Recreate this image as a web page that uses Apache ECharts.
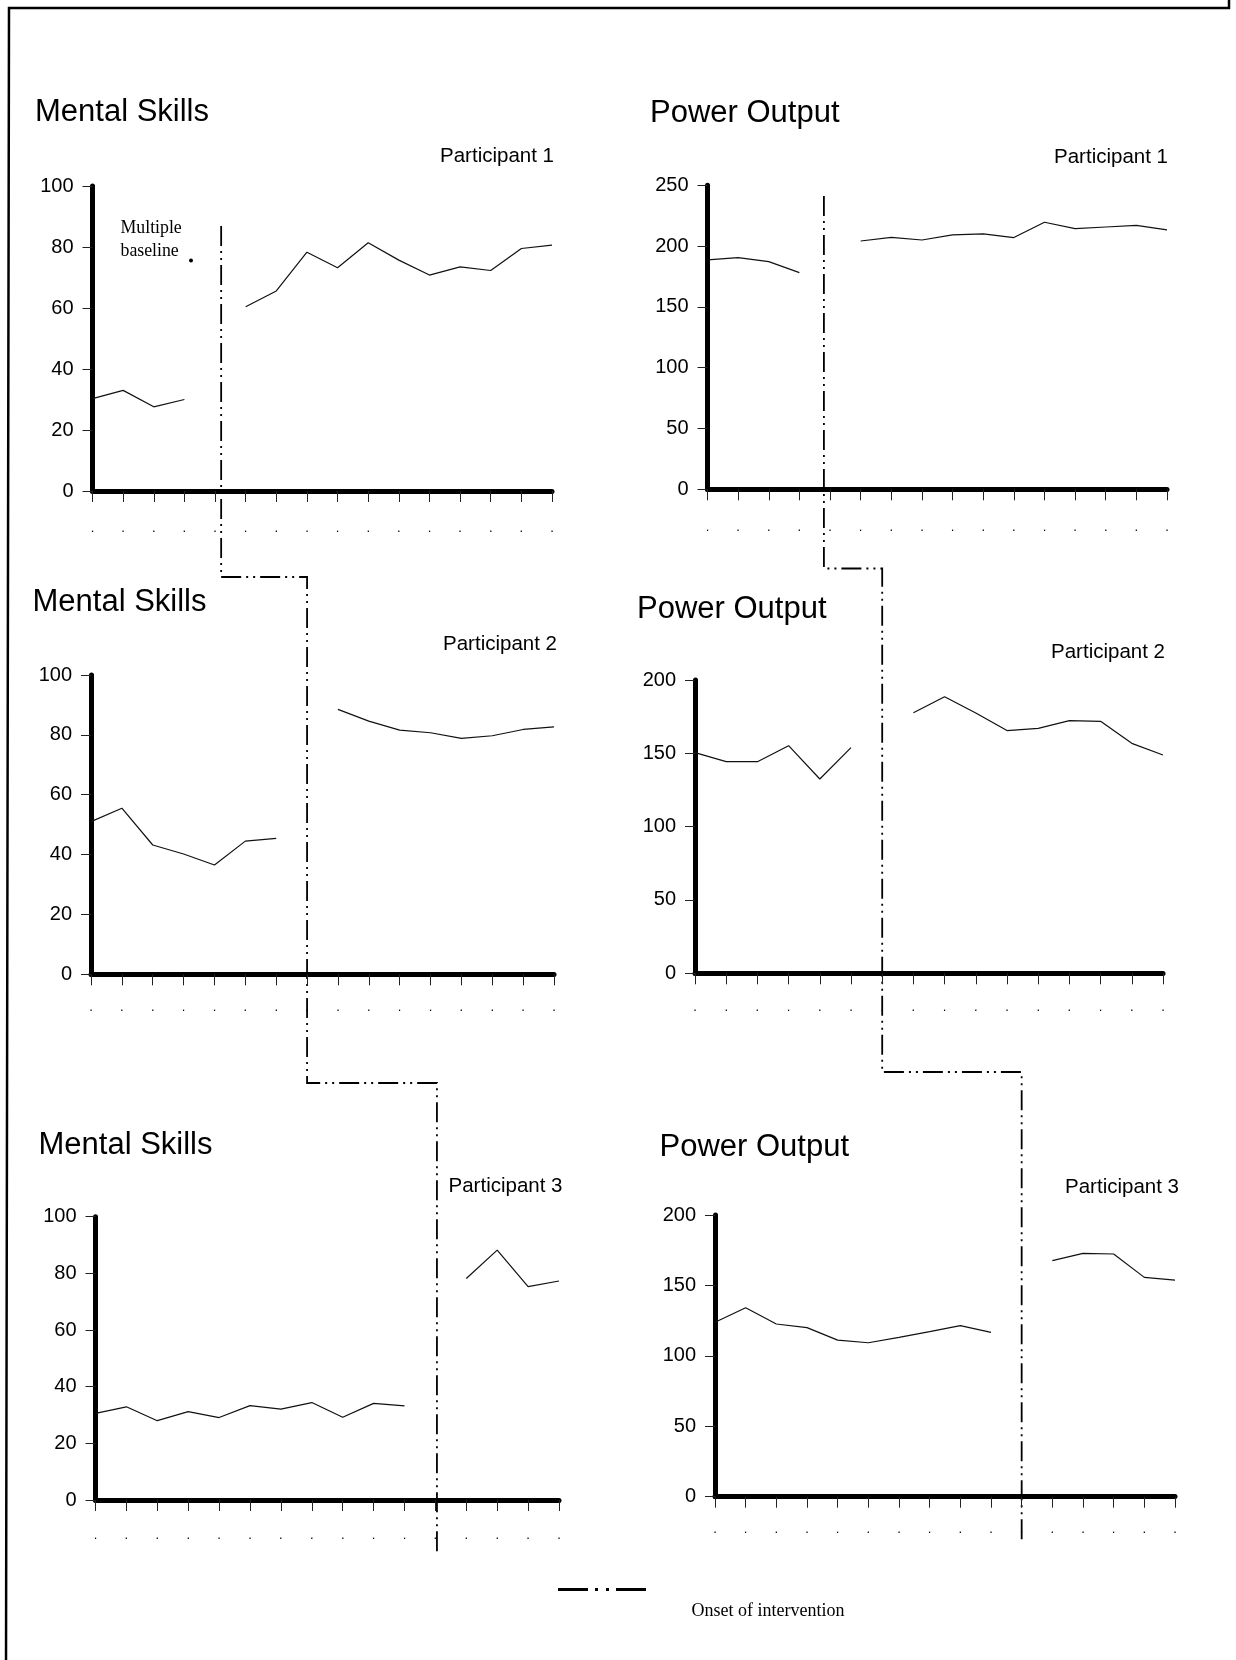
<!DOCTYPE html>
<html><head><meta charset="utf-8">
<script src="https://cdn.jsdelivr.net/npm/echarts@6/dist/echarts.min.js"></script>
<style>html,body{margin:0;padding:0;background:#fff}#c{width:1236px;height:1660px}</style>
</head><body><div id="c"></div>
<script>
// ---- data ----
const sessions = ['1','2','3','4','5','6','7','8','9','10','11','12','13','14','15','16'];
const mentalP1 = [30.3, 33, 27.6, 30, null, 60.4, 65.6, 78.3, 73.2, 81.4, 75.7, 70.8, 73.5, 72.3, 79.5, 80.6];
const mentalP2 = [51, 55.5, 43.2, 40.2, 36.5, 44.5, 45.4, null, 88.5, 84.6, 81.6, 80.7, 78.8, 79.7, 81.8, 82.7];
const mentalP3 = [30.6, 32.9, 28, 31.2, 29.1, 33.3, 32.1, 34.4, 29.2, 34.1, 33.2, null, 78.2, 88.2, 75.3, 77.3];
const powerP1 = [188.6, 190.5, 187.2, 178.2, null, 204.2, 207.2, 205, 209.2, 210, 207, 219.6, 214.4, 215.7, 217.1, 213.3];
const powerP2 = [150.5, 144.3, 144.3, 155.2, 132.5, 153.9, null, 177.7, 188.6, 177.5, 165.5, 167, 172.3, 171.8, 156.8, 148.9];
const powerP3 = [123.8, 134.2, 122.6, 120, 111.2, 109.3, 113.1, 117.2, 121.4, 116.7, null, 167.6, 172.8, 172.3, 155.7, 153.8];
const mentalAxis = {min: 0, max: 100, interval: 20};
const powerAxisP1 = {min: 0, max: 250, interval: 50};
const powerAxis = {min: 0, max: 200, interval: 50};
// intervention onset positions (session index) per participant
const onsetMental = [4.2, 7, 11.05];
const onsetPower = [3.8, 6, 10];
const titles = ['Mental Skills', 'Power Output'];
const participants = ['Participant 1', 'Participant 2', 'Participant 3'];

// ---- layout ----
const panels = [
  {data: mentalP1, axis: mentalAxis, left: 92.5, top: 186, right: 552, bottom: 491, dot: 41},
  {data: powerP1, axis: powerAxisP1, left: 707.5, top: 185.3, right: 1167, bottom: 489.3, dot: 42},
  {data: mentalP2, axis: mentalAxis, left: 91, top: 675, right: 554, bottom: 974.3, dot: 37},
  {data: powerP2, axis: powerAxis, left: 695, top: 680, right: 1163, bottom: 973.3, dot: 38},
  {data: mentalP3, axis: mentalAxis, left: 95.5, top: 1216.7, right: 559, bottom: 1500, dot: 39},
  {data: powerP3, axis: powerAxis, left: 715, top: 1215, right: 1175, bottom: 1496.7, dot: 37}
];
const FONT = "'Liberation Sans', Arial, sans-serif";
const SERIF = "'Liberation Serif', 'Times New Roman', serif";

const chart = echarts.init(document.getElementById('c'), null, {renderer: 'canvas'});
const option = {
  backgroundColor: '#fff',
  animation: false,
  grid: panels.map(p => ({left: p.left, top: p.top, width: p.right - p.left, height: p.bottom - p.top, containLabel: false})),
  xAxis: panels.map((p, i) => ({
    type: 'category', gridIndex: i, data: sessions, boundaryGap: false,
    axisLine: {show: true, onZero: false, lineStyle: {color: '#000', width: 5}},
    axisTick: {show: true, length: 11, interval: 0, lineStyle: {color: '#222', width: 1}},
    axisLabel: {show: true, interval: 0, formatter: () => '.', fontSize: 13, fontFamily: FONT, color: '#000', margin: p.dot - 10.5},
    splitLine: {show: false}
  })),
  yAxis: panels.map((p, i) => ({
    type: 'value', gridIndex: i, min: p.axis.min, max: p.axis.max, interval: p.axis.interval,
    axisLine: {show: true, lineStyle: {color: '#000', width: 5}},
    axisTick: {show: true, length: 10, lineStyle: {color: '#222', width: 1}},
    axisLabel: {show: true, fontSize: 20, fontFamily: FONT, color: '#000', margin: 19},
    splitLine: {show: false}
  })),
  series: panels.map((p, i) => ({
    type: 'line', xAxisIndex: i, yAxisIndex: i, data: p.data, connectNulls: false,
    showSymbol: false, symbol: 'none', lineStyle: {color: '#111', width: 1.2}, silent: true
  }))
};
chart.setOption(option);

function onsetX(gridIdx, pos) {
  const a = Math.floor(pos), b = Math.ceil(pos);
  const xa = chart.convertToPixel({xAxisIndex: gridIdx}, a);
  const xb = chart.convertToPixel({xAxisIndex: gridIdx}, b);
  return xa + (xb - xa) * (pos - a);
}
const xm = onsetMental.map((v, k) => onsetX(k * 2, v));
const xp = onsetPower.map((v, k) => onsetX(k * 2 + 1, v));
const dashStyle = {stroke: '#000', lineWidth: 1.8, lineDash: [20, 5, 2, 5, 2, 5], fill: null};

function txt(text, x, y, size, family, align) {
  return {type: 'text', silent: true, style: {text: text, x: x, y: y, fontSize: size, fontFamily: family, fill: '#000', align: align || 'left', verticalAlign: 'middle'}};
}

const graphics = [
  // frame
  {type: 'polyline', silent: true, shape: {points: [[6, 1660], [9, 8], [1229, 8], [1229, 0]]}, style: {stroke: '#000', lineWidth: 2.5, fill: null}},
  // titles
  txt(titles[0], 35, 112, 31, FONT), txt(titles[1], 650, 113, 31, FONT),
  txt(titles[0], 32.5, 602, 31, FONT), txt(titles[1], 637, 609, 31, FONT),
  txt(titles[0], 38.5, 1145, 31, FONT), txt(titles[1], 659.5, 1147, 31, FONT),
  // participant labels
  txt(participants[0], 554, 156, 20.5, FONT, 'right'), txt(participants[0], 1168, 157.5, 20.5, FONT, 'right'),
  txt(participants[1], 557, 644, 20.5, FONT, 'right'), txt(participants[1], 1165, 652.5, 20.5, FONT, 'right'),
  txt(participants[2], 562.5, 1186, 20.5, FONT, 'right'), txt(participants[2], 1179, 1187.5, 20.5, FONT, 'right'),
  // multiple baseline note
  txt('Multiple', 120.5, 228, 17.8, SERIF), txt('baseline', 120.5, 251, 17.8, SERIF),
  {type: 'circle', silent: true, shape: {cx: 191, cy: 260.5, r: 2}, style: {fill: '#000'}},
  // intervention lines
  {type: 'polyline', silent: true, shape: {points: [[xm[0], 226], [xm[0], 577], [xm[1], 577], [xm[1], 1083], [xm[2], 1083], [xm[2], 1553]]}, style: dashStyle},
  {type: 'polyline', silent: true, shape: {points: [[xp[0], 196], [xp[0], 568.5], [xp[1], 568.5], [xp[1], 1072], [xp[2], 1072], [xp[2], 1542]]}, style: dashStyle},
  // legend
  {type: 'line', silent: true, shape: {x1: 558, y1: 1589.5, x2: 652, y2: 1589.5}, style: {stroke: '#000', lineWidth: 3, lineDash: [30, 7, 3, 8, 3, 7]}},
  txt('Onset of intervention', 691.5, 1611, 18, SERIF)
];
chart.setOption({graphic: graphics});
</script>
</body></html>
